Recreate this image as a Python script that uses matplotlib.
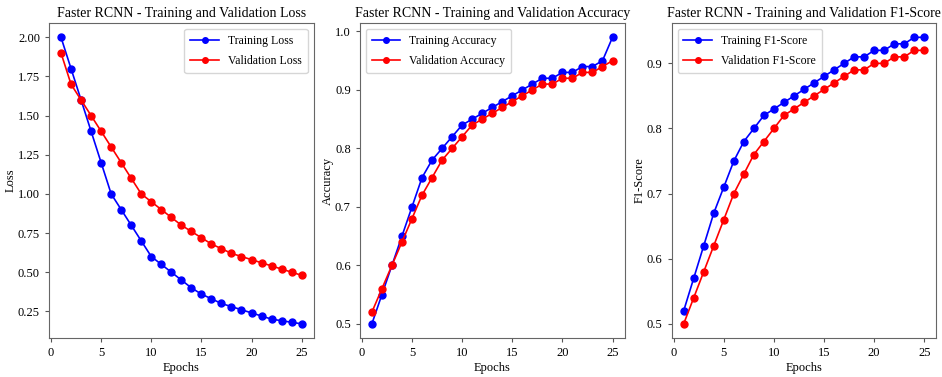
"""Faster RCNN training curves: loss, accuracy and F1-score."""

from matplotlib import pyplot as plt

plt.rcParams["font.family"] = ["Liberation Serif", "DejaVu Serif"]

EPOCHS = list(range(1, 26))

TRAIN_LOSS = [2.00, 1.80, 1.60, 1.40, 1.20, 1.00, 0.90, 0.80, 0.70, 0.60,
              0.55, 0.50, 0.45, 0.40, 0.36, 0.33, 0.30, 0.28, 0.26, 0.24,
              0.22, 0.20, 0.19, 0.18, 0.17]
VAL_LOSS = [1.90, 1.70, 1.60, 1.50, 1.40, 1.30, 1.20, 1.10, 1.00, 0.95,
            0.90, 0.85, 0.80, 0.76, 0.72, 0.68, 0.65, 0.62, 0.60, 0.58,
            0.56, 0.54, 0.52, 0.50, 0.48]

TRAIN_ACC = [0.50, 0.55, 0.60, 0.65, 0.70, 0.75, 0.78, 0.80, 0.82, 0.84,
             0.85, 0.86, 0.87, 0.88, 0.89, 0.90, 0.91, 0.92, 0.92, 0.93,
             0.93, 0.94, 0.94, 0.95, 0.99]
VAL_ACC = [0.52, 0.56, 0.60, 0.64, 0.68, 0.72, 0.75, 0.78, 0.80, 0.82,
           0.84, 0.85, 0.86, 0.87, 0.88, 0.89, 0.90, 0.91, 0.91, 0.92,
           0.92, 0.93, 0.93, 0.94, 0.95]

TRAIN_F1 = [0.52, 0.57, 0.62, 0.67, 0.71, 0.75, 0.78, 0.80, 0.82, 0.83,
            0.84, 0.85, 0.86, 0.87, 0.88, 0.89, 0.90, 0.91, 0.91, 0.92,
            0.92, 0.93, 0.93, 0.94, 0.94]
VAL_F1 = [0.50, 0.54, 0.58, 0.62, 0.66, 0.70, 0.73, 0.76, 0.78, 0.80,
          0.82, 0.83, 0.84, 0.85, 0.86, 0.87, 0.88, 0.89, 0.89, 0.90,
          0.90, 0.91, 0.91, 0.92, 0.92]

PANELS = [
    ("Loss", TRAIN_LOSS, VAL_LOSS, "upper right", [0.25, 0.5, 0.75, 1.0, 1.25, 1.5, 1.75, 2.0], "{:.2f}"),
    ("Accuracy", TRAIN_ACC, VAL_ACC, "upper left", [0.5, 0.6, 0.7, 0.8, 0.9, 1.0], "{:.1f}"),
    ("F1-Score", TRAIN_F1, VAL_F1, "upper left", [0.5, 0.6, 0.7, 0.8, 0.9], "{:.1f}"),
]

AX_LEFT = [0.052, 0.382, 0.713]
AX_WIDTH = 0.281
AX_BOTTOM = 0.103
AX_HEIGHT = 0.836

fig = plt.figure(figsize=(9.42, 3.77), dpi=100)

for left, (name, train, val, loc, ticks, fmt) in zip(AX_LEFT, PANELS):
    ax = fig.add_axes([left, AX_BOTTOM, AX_WIDTH, AX_HEIGHT])
    ax.plot(EPOCHS, train, "o-", color="blue", markersize=5, linewidth=1.2,
            label=f"Training {name}")
    ax.plot(EPOCHS, val, "o-", color="red", markersize=5, linewidth=1.2,
            label=f"Validation {name}")
    ax.set_title(f"Faster RCNN - Training and Validation {name}", fontsize=10, pad=4)
    ax.set_xlabel("Epochs", fontsize=9, labelpad=2)
    ax.set_ylabel(name, fontsize=9, labelpad=1)
    ax.set_xticks([0, 5, 10, 15, 20, 25])
    ax.set_yticks(ticks)
    ax.set_yticklabels([fmt.format(t) for t in ticks])
    ax.tick_params(labelsize=9, length=3, color="#555555")
    for sp in ax.spines.values():
        sp.set_color("#666666")
    ax.legend(loc=loc, fontsize=8.5, labelspacing=0.7, handlelength=2.4,
              markerscale=0.8, borderpad=0.5)

fig.savefig("out.png", dpi=100)
